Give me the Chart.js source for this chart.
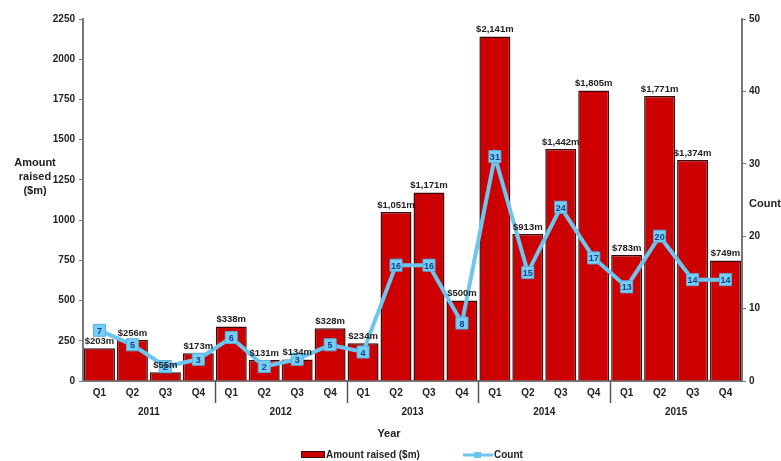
<!DOCTYPE html>
<html>
<head>
<meta charset="utf-8">
<script src="https://cdn.jsdelivr.net/npm/chart.js@4"></script>
<style>
  html, body { margin: 0; padding: 0; background: #fff; }
  #wrap { width: 781px; height: 461px; position: relative; }
</style>
</head>
<body>
<div id="wrap"><canvas id="myChart" width="781" height="461"></canvas></div>
<script>
// data
var quarters = ["Q1","Q2","Q3","Q4","Q1","Q2","Q3","Q4","Q1","Q2","Q3","Q4","Q1","Q2","Q3","Q4","Q1","Q2","Q3","Q4"];
var years = ["2011", "2012", "2013", "2014", "2015"];
var amountRaised = [203, 256, 55, 173, 338, 131, 134, 328, 234, 1051, 1171, 500, 2141, 913, 1442, 1805, 783, 1771, 1374, 749];
var dealCount = [7, 5, 2, 3, 6, 2, 3, 5, 4, 16, 16, 8, 31, 15, 24, 17, 13, 20, 14, 14];
var leftTicks = [0, 250, 500, 750, 1000, 1250, 1500, 1750, 2000, 2250];
var rightTicks = [0, 10, 20, 30, 40, 50];

var FONT = "'Liberation Sans', Arial, sans-serif";
var barRed = "#cc0000";
var barEdge = "#3a0a0a";
var lineBlue = "#6ec6ef";

// labels, year groups, axis titles and legend drawn by hand
var extras = {
  id: "extras",
  afterDatasetsDraw: function(chart) {
    var ctx = chart.ctx;
    var area = chart.chartArea;
    ctx.save();

    // bar value labels
    ctx.font = "bold 9.5px " + FONT;
    ctx.fillStyle = "#222";
    ctx.textAlign = "center";
    ctx.textBaseline = "bottom";
    chart.getDatasetMeta(0).data.forEach(function(bar, i) {
      ctx.fillText("$" + amountRaised[i].toLocaleString("en-US") + "m", bar.x, bar.y - 2);
    });

    // count labels inside markers
    ctx.font = "bold 9px " + FONT;
    ctx.fillStyle = "#1d3f8a";
    ctx.textBaseline = "middle";
    chart.getDatasetMeta(1).data.forEach(function(pt, i) {
      ctx.fillText(String(dealCount[i]), pt.x, pt.y + 1);
    });

    // year dividers and year labels
    var step = (area.right - area.left) / quarters.length;
    ctx.strokeStyle = "#555";
    ctx.lineWidth = 1.5;
    for (var g = 1; g < years.length; g++) {
      var dx = Math.round(area.left + g * 4 * step) + 0.5;
      ctx.beginPath();
      ctx.moveTo(dx, area.bottom);
      ctx.lineTo(dx, area.bottom + 22);
      ctx.stroke();
    }
    ctx.font = "bold 10px " + FONT;
    ctx.fillStyle = "#222";
    years.forEach(function(y, g) {
      ctx.fillText(y, area.left + (g * 4 + 2) * step, 412);
    });

    // axis titles
    ctx.font = "bold 11px " + FONT;
    ctx.fillText("Year", 389, 434);
    ctx.fillText("Amount", 35, 163);
    ctx.fillText("raised", 35, 177);
    ctx.fillText("($m)", 35, 191);
    ctx.fillText("Count", 765, 204);

    // legend
    ctx.font = "bold 10px " + FONT;
    ctx.textAlign = "left";
    ctx.fillStyle = barRed;
    ctx.fillRect(301, 451, 24, 7);
    ctx.strokeStyle = barEdge;
    ctx.lineWidth = 1;
    ctx.strokeRect(301.5, 451.5, 23, 6);
    ctx.fillStyle = "#222";
    ctx.fillText("Amount raised ($m)", 326, 455);
    ctx.strokeStyle = lineBlue;
    ctx.lineWidth = 3;
    ctx.beginPath();
    ctx.moveTo(463, 455);
    ctx.lineTo(493, 455);
    ctx.stroke();
    ctx.fillStyle = lineBlue;
    ctx.fillRect(474, 452, 7, 6);
    ctx.fillStyle = "#222";
    ctx.fillText("Count", 494, 455);

    ctx.restore();
  }
};

var tickFont = { family: FONT, size: 10, weight: "bold" };
function plainLabel(v) { return String(v); }

var ctx = document.getElementById("myChart").getContext("2d");
var myChart = new Chart(ctx, {
  type: "bar",
  data: {
    labels: quarters,
    datasets: [{
      type: "bar",
      label: "Amount raised ($m)",
      data: amountRaised,
      yAxisID: "y",
      backgroundColor: barRed,
      borderColor: barEdge,
      borderWidth: 1.5,
      barPercentage: 0.94,
      categoryPercentage: 1.0,
      order: 2
    }, {
      type: "line",
      label: "Count",
      data: dealCount,
      yAxisID: "y1",
      borderColor: lineBlue,
      borderWidth: 4,
      pointStyle: "rect",
      pointRadius: 8.5,
      pointBackgroundColor: "#74d0f6",
      pointBorderColor: "#5aaedc",
      pointBorderWidth: 1,
      tension: 0,
      order: 1
    }]
  },
  options: {
    responsive: false,
    animation: false,
    layout: { padding: { top: 19, bottom: 0, left: 0, right: 0 } },
    plugins: {
      legend: { display: false },
      tooltip: { enabled: false }
    },
    scales: {
      x: {
        grid: { display: false, drawTicks: false },
        border: { display: true, color: "#777", width: 2 },
        ticks: { color: "#222", font: tickFont, padding: 6 },
        afterFit: function(s) { s.height = 80; }
      },
      y: {
        position: "left",
        min: 0,
        max: 2250,
        afterBuildTicks: function(s) { s.ticks = leftTicks.map(function(v) { return { value: v }; }); },
        grid: { display: true, drawOnChartArea: false, drawTicks: true, tickLength: 4, color: "#777" },
        border: { display: true, color: "#777", width: 2 },
        ticks: { color: "#222", font: tickFont, padding: 4, callback: plainLabel },
        afterFit: function(s) { s.width = 83; }
      },
      y1: {
        position: "right",
        min: 0,
        max: 50,
        afterBuildTicks: function(s) { s.ticks = rightTicks.map(function(v) { return { value: v }; }); },
        grid: { display: true, drawOnChartArea: false, drawTicks: true, tickLength: 4, color: "#777" },
        border: { display: true, color: "#777", width: 2 },
        ticks: { color: "#222", font: tickFont, padding: 3, callback: plainLabel },
        afterFit: function(s) { s.width = 39; }
      }
    }
  },
  plugins: [extras]
});
</script>
</body>
</html>
